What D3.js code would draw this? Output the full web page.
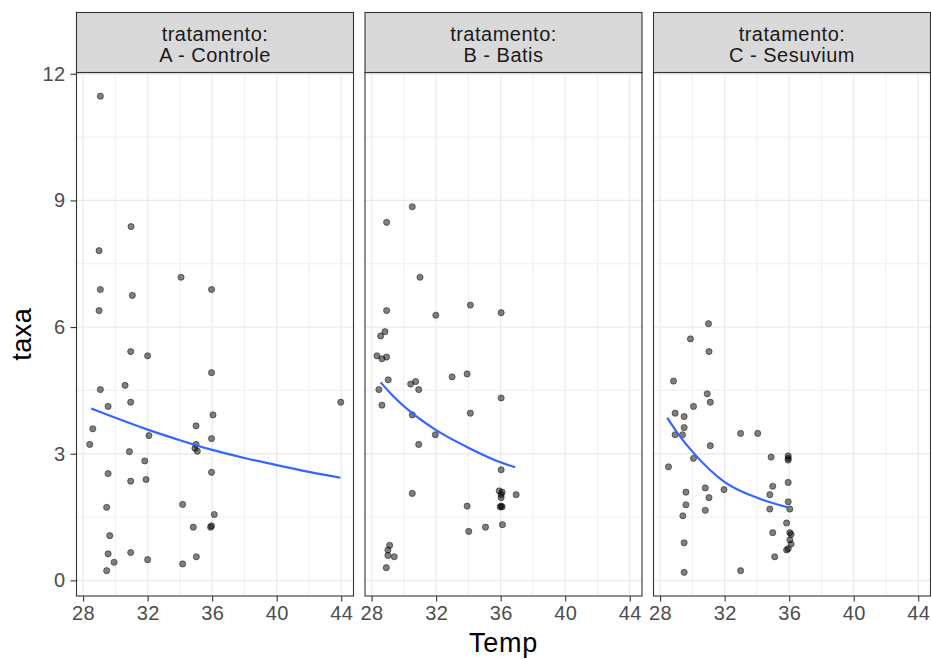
<!DOCTYPE html>
<html><head><meta charset="utf-8">
<script src="https://cdn.jsdelivr.net/npm/d3@7"></script>
<style>body{margin:0;background:#fff} text{font-family:"Liberation Sans",Arial,sans-serif}</style>
</head><body><svg id="c" width="931" height="659"></svg>
<script>
const facets = ["A - Controle", "B - Batis", "C - Sesuvium"];
const stripTitle = "tratamento:";
const xTicks = [28, 32, 36, 40, 44];
const xMinor = [30, 34, 38, 42];
const yTicks = [0, 3, 6, 9, 12];
const yMinor = [1.5, 4.5, 7.5, 10.5];
const xTitle = "Temp";
const yTitle = "taxa";

const tempA = [29.07,30.97,28.99,34.07,29.07,35.96,31.05,28.99,30.95,32.0,35.96,29.07,30.6,29.55,30.95,43.97,36.05,28.6,35.0,32.08,35.96,28.41,35.0,34.93,35.08,30.87,31.82,29.55,30.95,31.9,35.96,29.46,34.17,36.13,34.83,35.9,35.96,29.65,29.55,30.95,29.92,32.0,35.02,34.17,29.46];
const taxaA = [11.47,8.38,7.81,7.18,6.89,6.89,6.75,6.39,5.42,5.32,4.92,4.52,4.62,4.12,4.22,4.22,3.92,3.59,3.66,3.43,3.36,3.22,3.22,3.13,3.06,3.05,2.83,2.53,2.35,2.39,2.56,1.73,1.80,1.56,1.26,1.26,1.29,1.06,0.63,0.66,0.43,0.49,0.56,0.39,0.23];

const tempB = [30.52,28.93,31.0,28.93,34.12,31.98,36.03,28.83,28.56,28.33,28.64,28.93,29.03,32.99,33.92,30.42,30.73,30.92,28.45,28.64,36.03,30.52,34.12,31.95,30.92,36.03,30.52,36.96,35.91,36.09,36.03,36.03,33.92,36.03,36.09,35.97,34.02,35.06,36.11,29.12,29.01,29.01,29.4,28.91];
const taxaB = [8.85,8.48,7.18,6.39,6.52,6.28,6.34,5.89,5.79,5.32,5.25,5.29,4.75,4.82,4.89,4.65,4.71,4.52,4.52,4.15,4.32,3.92,3.96,3.45,3.22,2.62,2.06,2.03,2.12,2.09,2.03,1.96,1.76,1.76,1.74,1.74,1.16,1.26,1.32,0.83,0.72,0.59,0.56,0.30];

const tempC = [31.0,29.88,31.03,28.83,30.92,31.11,30.07,28.93,29.49,29.49,28.93,29.39,32.99,34.05,31.11,34.88,35.94,35.94,35.94,30.07,28.52,35.94,34.98,30.8,31.96,29.6,34.8,31.03,35.94,29.6,36.04,34.8,30.8,29.41,35.84,34.98,36.04,36.12,36.04,36.12,35.94,35.84,29.49,35.1,29.49,32.99];
const taxaC = [6.08,5.72,5.42,4.72,4.42,4.22,4.12,3.96,3.88,3.62,3.45,3.45,3.48,3.48,3.19,2.92,2.95,2.89,2.85,2.89,2.69,2.32,2.23,2.19,2.15,2.09,2.03,1.96,1.86,1.79,1.69,1.69,1.66,1.53,1.36,1.13,1.13,1.09,0.96,0.86,0.75,0.72,0.89,0.56,0.19,0.23];

const fitTempA = [28.5,30,32,34,36,38,40,42,43.95];
const fitTaxaA = [4.07,3.85,3.57,3.32,3.09,2.9,2.73,2.57,2.43];
const fitTempB = [28.56,29.3,30.52,31.95,34.12,36.03,36.9];
const fitTaxaB = [4.69,4.38,3.96,3.57,3.12,2.79,2.68];
const fitTempC = [28.44,29.08,30.07,31.96,34.05,35.92];
const fitTaxaC = [3.85,3.49,3.02,2.34,1.95,1.73];

const temps = [tempA, tempB, tempC];
const taxas = [taxaA, taxaB, taxaC];
const fitTemps = [fitTempA, fitTempB, fitTempC];
const fitTaxas = [fitTaxaA, fitTaxaB, fitTaxaC];

const svg = d3.select("#c");
const panelLefts = [76.5, 365, 653.5];
const panelW = 277;
const stripTop = 12.5, panelTop = 72.5, panelBottom = 596;
const dark = "#333333", grid = "#ebebeb", tickTxt = "#4d4d4d";
const FF = '"Liberation Sans",Arial,sans-serif';

const y = d3.scaleLinear().domain([-0.37, 12.03]).range([panelBottom, panelTop]);

facets.forEach((f, i) => {
  const L = panelLefts[i];
  const x = d3.scaleLinear().domain([27.59, 44.76]).range([L, L + panelW]);
  const g = svg.append("g");
  g.append("clipPath").attr("id", "clip" + i).append("rect")
    .attr("x", L).attr("y", panelTop).attr("width", panelW).attr("height", panelBottom - panelTop);
  const inner = g.append("g").attr("clip-path", `url(#clip${i})`);
  inner.append("rect").attr("x", L).attr("y", panelTop).attr("width", panelW).attr("height", panelBottom - panelTop).attr("fill", "#fff");
  inner.selectAll(".ymin").data(yMinor).join("line")
    .attr("x1", L).attr("x2", L + panelW).attr("y1", d => y(d)).attr("y2", d => y(d))
    .attr("stroke", grid).attr("stroke-width", 0.8);
  inner.selectAll(".xmin").data(xMinor).join("line")
    .attr("y1", panelTop).attr("y2", panelBottom).attr("x1", d => x(d)).attr("x2", d => x(d))
    .attr("stroke", grid).attr("stroke-width", 0.8);
  inner.selectAll(".ymaj").data(yTicks).join("line")
    .attr("x1", L).attr("x2", L + panelW).attr("y1", d => y(d)).attr("y2", d => y(d))
    .attr("stroke", grid).attr("stroke-width", 1.3);
  inner.selectAll(".xmaj").data(xTicks).join("line")
    .attr("y1", panelTop).attr("y2", panelBottom).attr("x1", d => x(d)).attr("x2", d => x(d))
    .attr("stroke", grid).attr("stroke-width", 1.3);
  const pts = temps[i].map((t, k) => [t, taxas[i][k]]);
  inner.selectAll("circle").data(pts).join("circle")
    .attr("cx", d => x(d[0])).attr("cy", d => y(d[1])).attr("r", 3.1)
    .attr("fill", "#000").attr("fill-opacity", 0.5)
    .attr("stroke", "#000").attr("stroke-opacity", 0.5).attr("stroke-width", 0.9);
  const fit = fitTemps[i].map((t, k) => [t, fitTaxas[i][k]]);
  inner.append("path").datum(fit)
    .attr("d", d3.line().x(d => x(d[0])).y(d => y(d[1])).curve(d3.curveMonotoneX))
    .attr("fill", "none").attr("stroke", "#3366FF").attr("stroke-width", 2.2);
  g.append("rect").attr("x", L).attr("y", panelTop).attr("width", panelW).attr("height", panelBottom - panelTop)
    .attr("fill", "none").attr("stroke", dark).attr("stroke-width", 1.1);
  g.append("rect").attr("x", L).attr("y", stripTop).attr("width", panelW).attr("height", panelTop - stripTop)
    .attr("fill", "#d9d9d9").attr("stroke", dark).attr("stroke-width", 1.1);
  g.append("text").attr("x", L + panelW / 2).attr("y", 40.5).attr("text-anchor", "middle")
    .attr("font-size", 20).attr("letter-spacing", 0.5).attr("fill", "#1a1a1a").text(stripTitle);
  g.append("text").attr("x", L + panelW / 2).attr("y", 61.7).attr("text-anchor", "middle")
    .attr("font-size", 20).attr("letter-spacing", 0.5).attr("fill", "#1a1a1a").text(f);
  const xa = g.append("g").attr("transform", `translate(0,${panelBottom})`)
    .call(d3.axisBottom(x).tickValues(xTicks).tickSize(5.5).tickPadding(4).tickFormat(d3.format("d")));
  xa.select(".domain").remove();
  xa.selectAll(".tick line").attr("stroke", dark).attr("stroke-width", 1.1);
  xa.selectAll(".tick text").attr("font-size", 20).attr("letter-spacing", 0.4).attr("fill", tickTxt).attr("font-family", FF);
  if (i === 0) {
    const ya = g.append("g").attr("transform", `translate(${L},0)`)
      .call(d3.axisLeft(y).tickValues(yTicks).tickSize(6).tickPadding(5));
    ya.select(".domain").remove();
    ya.selectAll(".tick line").attr("stroke", dark).attr("stroke-width", 1.1);
    ya.selectAll(".tick text").attr("font-size", 20).attr("letter-spacing", 0.4).attr("fill", tickTxt).attr("font-family", FF);
  }
});

svg.append("text").attr("x", (panelLefts[0] + panelLefts[2] + panelW) / 2).attr("y", 652)
  .attr("text-anchor", "middle").attr("font-size", 27).attr("letter-spacing", 0.8).attr("fill", "#000").text(xTitle);
svg.append("text").attr("transform", `translate(31,${(panelTop + panelBottom) / 2}) rotate(-90)`)
  .attr("text-anchor", "middle").attr("font-size", 27).attr("letter-spacing", 0.5).attr("fill", "#000").text(yTitle);
</script></body></html>
